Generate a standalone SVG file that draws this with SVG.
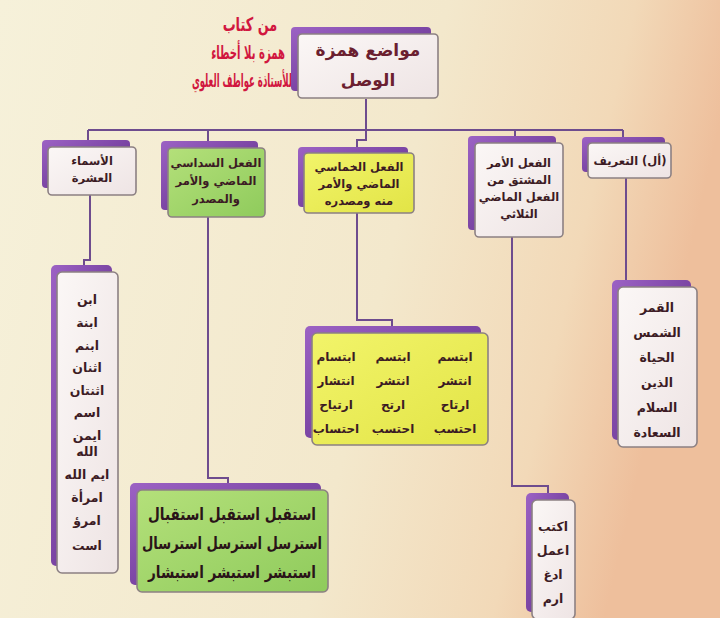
<svg xmlns="http://www.w3.org/2000/svg" width="720" height="618" viewBox="0 0 720 618">
<defs>
<linearGradient id="bg" x1="0" y1="0" x2="1" y2="0.2">
<stop offset="0" stop-color="#f6f1da"/>
<stop offset="0.6" stop-color="#f3e8cc"/>
<stop offset="0.85" stop-color="#f2d9b8"/>
<stop offset="1" stop-color="#eebf9c"/>
</linearGradient>
<linearGradient id="pur" x1="0" y1="0" x2="1" y2="1">
<stop offset="0" stop-color="#9c62c4"/>
<stop offset="1" stop-color="#5c2a86"/>
</linearGradient>
<linearGradient id="wht" x1="0" y1="0" x2="1" y2="1">
<stop offset="0" stop-color="#fbf7f6"/>
<stop offset="1" stop-color="#eee4e4"/>
</linearGradient>
<linearGradient id="grn" x1="0" y1="0" x2="1" y2="1">
<stop offset="0" stop-color="#b4e07a"/>
<stop offset="1" stop-color="#8fcb5c"/>
</linearGradient>
<linearGradient id="yel" x1="0" y1="0" x2="1" y2="1">
<stop offset="0" stop-color="#f2f46a"/>
<stop offset="1" stop-color="#e2e446"/>
</linearGradient>
</defs>
<style>
.sh{fill:url(#pur);}
.bx{stroke:#8c8083;stroke-width:1.6;}
.w{fill:url(#wht);}
.g{fill:url(#grn);}
.y{fill:url(#yel);}
.ln{fill:none;stroke:#6e4c8e;stroke-width:2;}
text{font-family:"DejaVu Sans",sans-serif;font-weight:bold;text-anchor:middle;direction:rtl;fill:#3c1b24;}
.t{fill:#d1173f;font-size:19px;}
.h{fill:#6b1f30;font-size:17px;}
.s{font-size:11.5px;}
.c{font-size:12.5px;}
.cy{font-size:12px;}
.b{font-size:17px;fill:#2a1418;}
</style>
<rect x="0" y="0" width="720" height="618" fill="url(#bg)"/>
<g id="title">
<text class="t" x="0" y="0" transform="translate(250,31) scale(0.68,1)">من كتاب</text>
<text class="t" x="0" y="0" transform="translate(248,59) scale(0.53,1)">همزة بلا أخطاء</text>
<text class="t" x="0" y="0" transform="translate(242,87) scale(0.45,1)">للأستاذة عواطف العلوي</text>
</g>
<g id="connectors">
<path class="ln" d="M366,99 V130"/>
<path class="ln" d="M88,130 H623"/>
<path class="ln" d="M88,130 V140"/>
<path class="ln" d="M208,130 V141"/>
<path class="ln" d="M366,130 V140 H357 V147"/>
<path class="ln" d="M515,130 V136"/>
<path class="ln" d="M623,130 V137"/>
<path class="ln" d="M90,195 V260 H84 V265"/>
<path class="ln" d="M208,217 V478 H228 V483"/>
<path class="ln" d="M357,213 V320 H392 V326"/>
<path class="ln" d="M512,237 V486 H548 V493"/>
<path class="ln" d="M626,178 V280"/>
</g>
<g id="n-top">
<rect class="sh" x="291" y="27" width="140" height="64" rx="4"/>
<rect class="bx w" x="298" y="34" width="140" height="64" rx="4"/>
<text class="h" x="368" y="56">مواضع همزة</text>
<text class="h" x="368" y="86">الوصل</text>
</g>
<g id="n-asma">
<rect class="sh" x="42" y="140" width="88" height="48" rx="4"/>
<rect class="bx w" x="48" y="147" width="88" height="48" rx="4"/>
<text class="s" x="92" y="165">الأسماء</text>
<text class="s" x="92" y="182">العشرة</text>
</g>
<g id="n-sudasi">
<rect class="sh" x="161" y="141" width="97" height="69" rx="4"/>
<rect class="bx g" x="168" y="148" width="97" height="69" rx="4"/>
<text class="s" x="216" y="167">الفعل السداسي</text>
<text class="s" x="216" y="185">الماضي والأمر</text>
<text class="s" x="216" y="203">والمصدر</text>
</g>
<g id="n-khumasi">
<rect class="sh" x="298" y="147" width="110" height="60" rx="4"/>
<rect class="bx y" x="304" y="153" width="110" height="60" rx="4"/>
<text class="s" x="359" y="171">الفعل الخماسي</text>
<text class="s" x="359" y="188">الماضي والأمر</text>
<text class="s" x="359" y="205">منه ومصدره</text>
</g>
<g id="n-amr">
<rect class="sh" x="468" y="136" width="88" height="94" rx="4"/>
<rect class="bx w" x="475" y="143" width="88" height="94" rx="4"/>
<text class="s" x="519" y="167">الفعل الأمر</text>
<text class="s" x="519" y="184">المشتق من</text>
<text class="s" x="519" y="201">الفعل الماضي</text>
<text class="s" x="519" y="218">الثلاثي</text>
</g>
<g id="n-tarif">
<rect class="sh" x="582" y="137" width="83" height="35" rx="4"/>
<rect class="bx w" x="588" y="143" width="83" height="35" rx="4"/>
<text class="s" x="630" y="165">(أل) التعريف</text>
</g>
<g id="n-asma-list">
<rect class="sh" x="51" y="265" width="61" height="301" rx="5"/>
<rect class="bx w" x="57" y="272" width="61" height="301" rx="5"/>
<text class="c" x="87" y="304">ابن</text>
<text class="c" x="87" y="327">ابنة</text>
<text class="c" x="87" y="350">ابنم</text>
<text class="c" x="87" y="372">اثنان</text>
<text class="c" x="87" y="395">اثنتان</text>
<text class="c" x="87" y="417">اسم</text>
<text class="c" x="87" y="440">ايمن</text>
<text class="c" x="87" y="456">الله</text>
<text class="c" x="87" y="479">ايم الله</text>
<text class="c" x="87" y="502">امرأة</text>
<text class="c" x="87" y="525">امرؤ</text>
<text class="c" x="87" y="550">است</text>
</g>
<g id="n-sudasi-list">
<rect class="sh" x="130" y="483" width="191" height="102" rx="5"/>
<rect class="bx g" x="137" y="490" width="191" height="102" rx="5"/>
<text class="b" x="232" y="520" textLength="168" lengthAdjust="spacingAndGlyphs">استقبل استقبل استقبال</text>
<text class="b" x="232" y="549" textLength="180" lengthAdjust="spacingAndGlyphs">استرسل استرسل استرسال</text>
<text class="b" x="232" y="578" textLength="168" lengthAdjust="spacingAndGlyphs">استبشر استبشر استبشار</text>
</g>
<g id="n-khumasi-list">
<rect class="sh" x="305" y="326" width="176" height="112" rx="5"/>
<rect class="bx y" x="312" y="333" width="176" height="112" rx="5"/>
<text class="cy" x="455" y="361">ابتسم</text>
<text class="cy" x="393" y="361">ابتسم</text>
<text class="cy" x="336" y="361">ابتسام</text>
<text class="cy" x="455" y="385">انتشر</text>
<text class="cy" x="393" y="385">انتشر</text>
<text class="cy" x="336" y="385">انتشار</text>
<text class="cy" x="455" y="409">ارتاح</text>
<text class="cy" x="393" y="409">ارتح</text>
<text class="cy" x="336" y="409">ارتياح</text>
<text class="cy" x="455" y="433">احتسب</text>
<text class="cy" x="393" y="433">احتسب</text>
<text class="cy" x="336" y="433">احتساب</text>
</g>
<g id="n-amr-list">
<rect class="sh" x="526" y="493" width="43" height="119" rx="5"/>
<rect class="bx w" x="532" y="500" width="43" height="119" rx="5"/>
<text class="c" x="553" y="531">اكتب</text>
<text class="c" x="553" y="555">اعمل</text>
<text class="c" x="553" y="579">ادغ</text>
<text class="c" x="553" y="603">ارم</text>
</g>
<g id="n-tarif-list">
<rect class="sh" x="612" y="280" width="79" height="160" rx="5"/>
<rect class="bx w" x="618" y="287" width="79" height="160" rx="5"/>
<text class="c" x="657" y="312">القمر</text>
<text class="c" x="657" y="337">الشمس</text>
<text class="c" x="657" y="362">الحياة</text>
<text class="c" x="657" y="387">الذين</text>
<text class="c" x="657" y="412">السلام</text>
<text class="c" x="657" y="437">السعادة</text>
</g>
</svg>
